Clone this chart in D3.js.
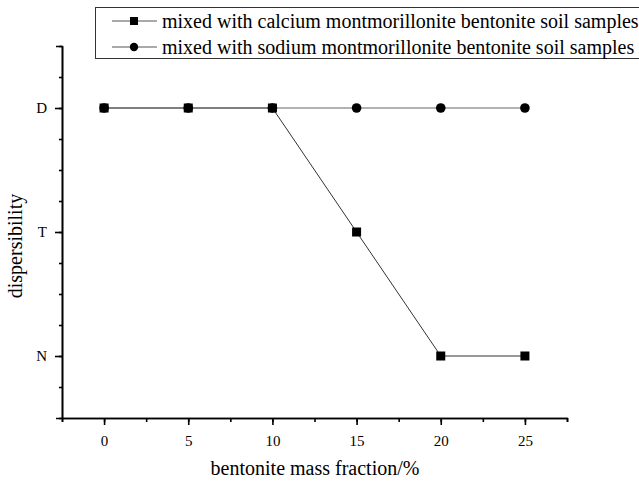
<!DOCTYPE html>
<html>
<head>
<meta charset="utf-8">
<script src="https://cdn.jsdelivr.net/npm/d3@7"></script>
<style>
  body { margin: 0; background: #fff; }
  svg { font-family: "Liberation Serif", "DejaVu Serif", serif; }
</style>
</head>
<body>
<svg id="chart" width="639" height="482"></svg>
<script>
let fractions = [0, 5, 10, 15, 20, 25]
let calcium = [3, 3, 3, 2, 1, 1]
let sodium = [3, 3, 3, 3, 3, 3]
let levels = ["N", "T", "D"]
let seriesNames = [
    "mixed with calcium montmorillonite bentonite soil samples",
    "mixed with sodium montmorillonite bentonite soil samples"
]

let svg = d3.select("#chart")

let x = d3.scaleLinear().domain([-2.5, 27.5]).range([62, 567])
let y = d3.scaleLinear().domain([0.5, 3.5]).range([418, 46])

// minor ticks first, then major with labels
let xMinor = d3.axisBottom(x)
    .tickValues(d3.range(-2.5, 27.6, 2.5))
    .tickSizeInner(4)
    .tickSizeOuter(4)
    .tickFormat("")
let xMajor = d3.axisBottom(x)
    .tickValues(fractions)
    .tickSizeInner(7)
    .tickSizeOuter(0)
    .tickPadding(10)

let yMinor = d3.axisLeft(y)
    .tickValues(d3.range(0.5, 3.51, 0.25))
    .tickSizeInner(3)
    .tickSizeOuter(6)
    .tickFormat("")
let yMajor = d3.axisLeft(y)
    .tickValues([1, 2, 3])
    .tickSizeInner(7)
    .tickSizeOuter(0)
    .tickPadding(8)
    .tickFormat(d => levels[d - 1])

function styleAxis(g) {
    g.selectAll("path, line").attr("stroke", "#000").attr("stroke-width", 1.6)
    g.selectAll("text")
        .attr("fill", "#000")
        .style("font-family", "Liberation Serif")
        .style("font-size", "15px")
}

svg.append("g").attr("transform", "translate(0,418)").call(xMinor).call(styleAxis)
svg.append("g").attr("transform", "translate(0,418)").call(xMajor).call(styleAxis)
svg.append("g").attr("transform", "translate(62,0)").call(yMinor).call(styleAxis)
svg.append("g").attr("transform", "translate(62,0)").call(yMajor).call(styleAxis)

svg.append("text")
    .attr("x", 315)
    .attr("y", 475)
    .attr("text-anchor", "middle")
    .style("font-size", "20px")
    .text("bentonite mass fraction/%")

svg.append("text")
    .attr("transform", "translate(22,246) rotate(-90)")
    .attr("text-anchor", "middle")
    .style("font-size", "20px")
    .text("dispersibility")

let line = d3.line()
    .x((d, i) => x(fractions[i]))
    .y(d => y(d))

svg.append("path")
    .datum(calcium)
    .attr("d", line)
    .attr("fill", "none")
    .attr("stroke", "#333")
    .attr("stroke-width", 1)

svg.append("path")
    .datum(sodium)
    .attr("d", line)
    .attr("fill", "none")
    .attr("stroke", "#666")
    .attr("stroke-width", 1.2)

svg.append("g")
    .selectAll("rect")
    .data(calcium)
    .join("rect")
    .attr("x", (d, i) => x(fractions[i]) - 4.5)
    .attr("y", d => y(d) - 4.5)
    .attr("width", 9)
    .attr("height", 9)
    .attr("fill", "#000")

svg.append("g")
    .selectAll("circle")
    .data(sodium)
    .join("circle")
    .attr("cx", (d, i) => x(fractions[i]))
    .attr("cy", d => y(d))
    .attr("r", 4.8)
    .attr("fill", "#000")

// legend
let legend = svg.append("g")
legend.append("rect")
    .attr("x", 95.5)
    .attr("y", 7.5)
    .attr("width", 560)
    .attr("height", 51)
    .attr("fill", "#fff")
    .attr("stroke", "#333")
    .attr("stroke-width", 1)

let rows = legend.selectAll("g.row")
    .data(seriesNames)
    .join("g")
    .attr("class", "row")
    .attr("transform", (d, i) => `translate(0,${21 + i * 26})`)

rows.append("line")
    .attr("x1", 112).attr("x2", 157)
    .attr("stroke", "#555")
    .attr("stroke-width", 1)

rows.each(function (d, i) {
    let g = d3.select(this)
    if (i === 0) {
        g.append("rect").attr("x", 130).attr("y", -4).attr("width", 8).attr("height", 8).attr("fill", "#000")
    } else {
        g.append("circle").attr("cx", 134).attr("cy", 0).attr("r", 4.2).attr("fill", "#000")
    }
})

rows.append("text")
    .attr("x", 162)
    .attr("y", 6.5)
    .style("font-size", "20px")
    .text(d => d)
</script>
</body>
</html>
